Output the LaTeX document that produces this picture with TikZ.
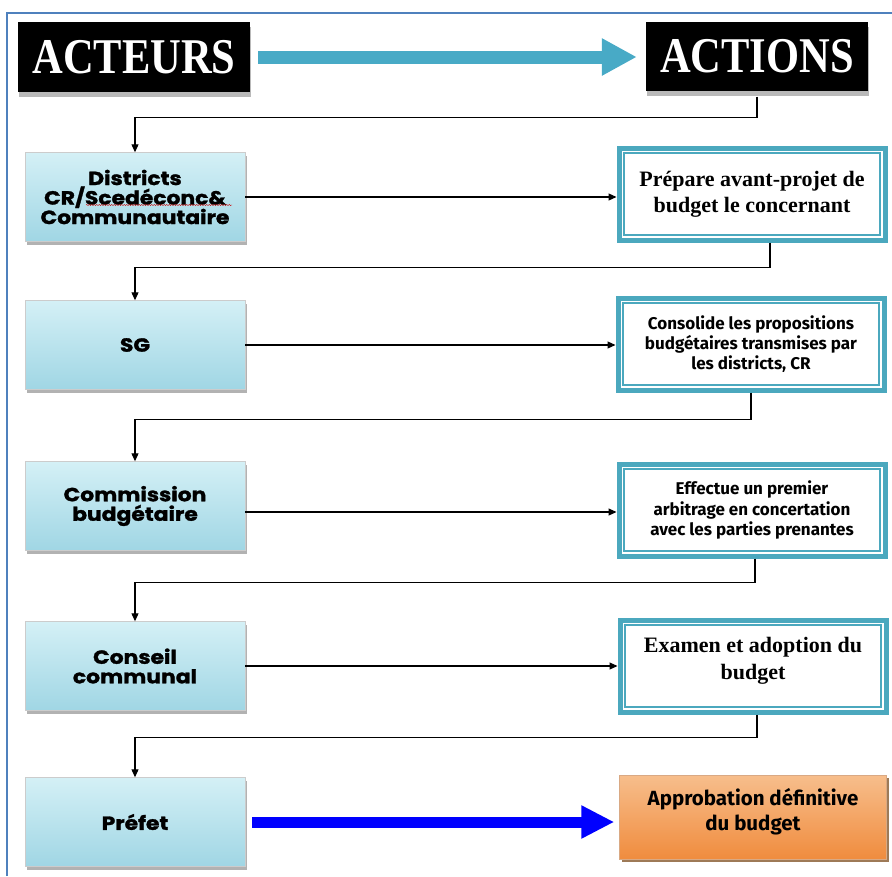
\documentclass[tikz,border=0pt]{standalone}
\usepackage{fontspec}
\setmainfont{Liberation Serif}
\newfontfamily\headfont{Liberation Serif}[FakeStretch=0.85]
\newfontfamily\actorfont{Poppins}[FakeStretch=1.15, FakeBold=1.5]
\newfontfamily\actfont{Fira Sans}
\usetikzlibrary{arrows.meta,shadows,decorations.pathmorphing}
\definecolor{frameblue}{RGB}{79,129,189}
\definecolor{boxteal}{RGB}{75,168,190}
\definecolor{arrowteal}{RGB}{72,170,198}
\definecolor{waterlight}{RGB}{212,240,246}
\definecolor{waterdark}{RGB}{160,214,228}
\definecolor{orangetop}{RGB}{247,190,140}
\definecolor{orangebot}{RGB}{240,140,62}
\begin{document}
\begin{tikzpicture}[x=1pt,y=-1pt,
  headbox/.style={fill=black, text=white, minimum width=232, minimum height=70,
    font=\headfont\bfseries\fontsize{50}{50}\selectfont,
    drop shadow={shadow xshift=1pt, shadow yshift=-5pt, fill=gray!55, opacity=1}},
  actor/.style={draw=gray!40, top color=waterlight, bottom color=waterdark,
    minimum width=220, minimum height=89, align=center,
    font=\actorfont\bfseries\fontsize{19}{19.5}\selectfont,
    drop shadow={shadow xshift=2pt, shadow yshift=-3pt, fill=gray!60, opacity=1}},
  actbox/.style={draw=boxteal, line width=5pt, fill=white, align=center,
    minimum width=266, minimum height=92,
    path picture={\draw[boxteal, line width=1.2pt]
      ([shift={(5pt,-5pt)}]path picture bounding box.north west) rectangle
      ([shift={(-5pt,5pt)}]path picture bounding box.south east);}},
  flow/.style={draw, line width=1.1pt, -{Triangle[length=8pt,width=7pt]}}]
\useasboundingbox (0,0) rectangle (892,876);
% frame
\draw[frameblue, line width=2pt] (7,876) -- (7,13) -- (892,13);

\node[headbox] (acteurs) at (134,57) {ACTEURS};
\node[headbox, minimum width=222, minimum height=69] (actions) at (757,56) {ACTIONS};

\node[actor] (districts) at (135,197) {Districts\\CR/Scedéconc\&\\Communautaire};
\node[actor] (sg) at (135,345) {SG};
\node[actor] (commission) at (135,506) {Commission\\budgétaire};
\node[actor] (conseil) at (135,666) {Conseil\\communal};
\node[actor] (prefet) at (135,822) {Préfet};

\node[actbox, font=\bfseries\fontsize{22}{26}\selectfont] (act1) at (752,194) {Prépare avant-projet de\\budget le concernant};
\node[actbox, font=\actfont\bfseries\fontsize{17}{20}\selectfont] (act2) at (751,344) {Consolide les propositions\\budgétaires transmises par\\les districts, CR};
\node[actbox, font=\actfont\bfseries\fontsize{17}{20.5}\selectfont] (act3) at (752,510) {Effectue un premier\\arbitrage en concertation\\avec les parties prenantes};
\node[actbox, font=\bfseries\fontsize{22}{27}\selectfont] (act4) at (753,666) {Examen et adoption du\\budget\\[-12pt]};
\node[top color=orangetop, bottom color=orangebot, draw=orangebot!80!black!60,
  minimum width=267, minimum height=84, align=center,
  font=\actfont\bfseries\fontsize{20.5}{25}\selectfont,
  drop shadow={shadow xshift=2pt, shadow yshift=-3pt, fill=brown!70!black, opacity=0.8}]
  (final) at (753,817) {Approbation définitive\\du budget\\[-10pt]};

% spell-check underline
\draw[red!80!black, decorate, decoration={snake, amplitude=0.6pt, segment length=2.5pt}]
  (86,205) -- (232,205);

% big arrows
\path[draw, arrowteal, line width=13pt, shorten <=8pt, shorten >=9pt,
  -{Triangle[length=35pt,width=35pt]}] (acteurs.east) -- (acteurs.east -| actions.west);
\path[draw, blue, line width=11pt, shorten <=7pt, shorten >=5pt,
  -{Triangle[length=33pt,width=31pt]}] (prefet.east) -- (prefet.east -| final.west);

% actors to actions
\path[flow] (districts.east) -- (districts.east -| act1.west);
\path[flow] (sg.east) -- (sg.east -| act2.west);
\path[flow] ([yshift=-6pt]commission.east) -- ([yshift=-6pt]commission.east -| act3.west);
\path[flow] (conseil.east) -- (conseil.east -| act4.west);

% back to next actor
\path[flow] ([yshift=-6pt]actions.south) -- ++(0,21) -| (districts.north);
\path[flow] ([xshift=18pt]act1.south) -- ++(0,25) -| (sg.north);
\path[flow] (act2.south) -- ++(0,27) -| (commission.north);
\path[flow] ([xshift=3pt]act3.south) -- ++(0,24) -| (conseil.north);
\path[flow] ([xshift=4pt]act4.south) -- ++(0,23) -| (prefet.north);
\end{tikzpicture}
\end{document}
